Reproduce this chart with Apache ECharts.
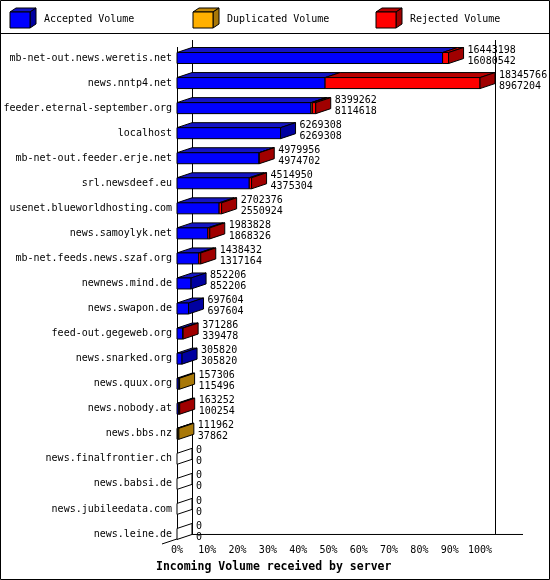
<!DOCTYPE html>
<html>
<head>
<meta charset="utf-8">
<script src="https://cdn.jsdelivr.net/npm/echarts@6/dist/echarts.min.js"></script>
<style>
  html, body { margin: 0; padding: 0; background: #fff; }
  #chart { width: 550px; height: 580px; }
</style>
</head>
<body>
<div id="chart"></div>
<script>
// servers, top to bottom
var servers = [
  'mb-net-out.news.weretis.net', 'news.nntp4.net', 'feeder.eternal-september.org',
  'localhost', 'mb-net-out.feeder.erje.net', 'srl.newsdeef.eu',
  'usenet.blueworldhosting.com', 'news.samoylyk.net', 'mb-net.feeds.news.szaf.org',
  'newnews.mind.de', 'news.swapon.de', 'feed-out.gegeweb.org', 'news.snarked.org',
  'news.quux.org', 'news.nobody.at', 'news.bbs.nz', 'news.finalfrontier.ch',
  'news.babsi.de', 'news.jubileedata.com', 'news.leine.de'
];
// numbers printed next to each bar
var offered = [16443198, 18345766, 8399262, 6269308, 4979956, 4514950, 2702376, 1983828,
  1438432, 852206, 697604, 371286, 305820, 157306, 163252, 111962, 0, 0, 0, 0];
var accepted = [16080542, 8967204, 8114618, 6269308, 4974702, 4375304, 2550924, 1868326,
  1317164, 852206, 697604, 339478, 305820, 115496, 100254, 37862, 0, 0, 0, 0];
var duplicated = [0, 0, 80000, 0, 0, 0, 0, 0, 0, 0, 0, 0, 0, 41810, 0, 74100, 0, 0, 0, 0];
var rejected = [362656, 9378562, 204644, 0, 5254, 139646, 151452, 115502, 121268, 0, 0,
  31808, 0, 0, 62998, 0, 0, 0, 0, 0];
var xTickLabels = ['0%', '10%', '20%', '30%', '40%', '50%', '60%', '70%', '80%', '90%', '100%'];

var FONT = 'DejaVu Sans Mono';
var DX = 15, DY = -5;   // 3d depth
var colors = {
  acc: { front: '#0000ff', top: '#1414c4', side: '#0000a0' },
  dup: { front: '#ffb000', top: '#c48a08', side: '#a87808' },
  rej: { front: '#ff0000', top: '#b80000', side: '#a00000' }
};
var edge = { stroke: '#000', lineWidth: 1 };

var xMax = Math.max.apply(null, offered);
var xInterval = xMax / 10;

var chart = echarts.init(document.getElementById('chart'), null, { renderer: 'canvas' });

function renderBar(params, api) {
  var i = api.value(0);
  var segs = [
    [api.value(1), colors.acc], [api.value(2), colors.dup], [api.value(3), colors.rej]
  ];
  var c = api.coord([0, i]);
  var x0 = c[0], cy = c[1];
  var top = cy - 5.5, bot = cy + 5.5;
  var children = [];
  var sum = 0, xs = x0, last = null;
  segs.forEach(function (s) {
    if (s[0] <= 0) return;
    var xe = api.coord([sum + s[0], i])[0];
    children.push({ type: 'polygon',
      shape: { points: [[xs, top], [xs + DX, top + DY], [xe + DX, top + DY], [xe, top]] },
      style: Object.assign({ fill: s[1].top }, edge) });
    children.push({ type: 'rect',
      shape: { x: xs, y: top, width: xe - xs, height: bot - top },
      style: Object.assign({ fill: s[1].front }, edge) });
    sum += s[0]; xs = xe; last = s[1];
  });
  children.push({ type: 'polygon',
    shape: { points: [[xs, top], [xs + DX, top + DY], [xs + DX, bot + DY], [xs, bot]] },
    style: Object.assign({ fill: last ? last.side : '#fff' }, edge) });
  children.push({ type: 'text', style: { text: String(api.value(4)), x: xs + DX + 4, y: cy - 8,
    verticalAlign: 'middle', fontFamily: FONT, fontSize: 10, fill: '#000' } });
  children.push({ type: 'text', style: { text: String(api.value(5)), x: xs + DX + 4, y: cy + 3,
    verticalAlign: 'middle', fontFamily: FONT, fontSize: 10, fill: '#000' } });
  return { type: 'group', children: children };
}

function renderFrame(params, api) {
  var first = api.coord([0, 0]);
  var lastC = api.coord([0, servers.length - 1]);
  var x0 = first[0], x100 = api.coord([xMax, 0])[0];
  var backTop = first[1] - 18, frontTop = first[1] - 11;
  var F = lastC[1] + 5;
  var ln = function (a, b, cc, d) {
    return { type: 'line', shape: { x1: a, y1: b, x2: cc, y2: d }, style: edge };
  };
  return { type: 'group', children: [
    ln(x0 + 0.5, frontTop, x0 + 0.5, F),
    ln(x0 + DX + 0.5, backTop, x0 + DX + 0.5, F + DY),
    ln(x100 + DX + 0.5, backTop, x100 + DX + 0.5, F + DY),
    ln(x0 + DX, F + DY + 0.5, x100 + DX + 28, F + DY + 0.5),
    ln(x0 - DX, F - DY, x0 + DX, F + DY)
  ] };
}

function cube(x, col, label) {
  var y = 12, w = 20, h = 16, d = 6, e = 4;
  return { type: 'group', children: [
    { type: 'polygon', shape: { points: [[x, y], [x + d, y - e], [x + w + d, y - e], [x + w, y]] },
      style: Object.assign({ fill: col.top }, edge) },
    { type: 'polygon', shape: { points: [[x + w, y], [x + w + d, y - e], [x + w + d, y + h - e], [x + w, y + h]] },
      style: Object.assign({ fill: col.side }, edge) },
    { type: 'rect', shape: { x: x, y: y, width: w, height: h },
      style: Object.assign({ fill: col.front }, edge) },
    { type: 'text', style: { text: label, x: x + 34, y: 19, verticalAlign: 'middle',
      fontFamily: FONT, fontSize: 10, fill: '#000' } }
  ] };
}

var barData = servers.map(function (s, i) {
  return [i, accepted[i], duplicated[i], rejected[i], offered[i], accepted[i]];
});

var option = {
  animation: false,
  backgroundColor: '#fff',
  title: {
    text: 'Incoming Volume received by server',
    left: 156, top: 561, padding: 0,
    textStyle: { fontFamily: FONT, fontSize: 11.5, fontWeight: 'bold', color: '#000' }
  },
  grid: { left: 177, right: 70, top: 45.5, bottom: 33.5 },
  xAxis: {
    type: 'value', min: 0, max: xMax, interval: xInterval,
    axisLine: { show: false }, axisTick: { show: false }, splitLine: { show: false },
    axisLabel: {
      margin: 4, verticalAlign: 'middle', color: '#000', fontFamily: FONT, fontSize: 10,
      formatter: function (v) { return xTickLabels[Math.round(v / xInterval)]; }
    }
  },
  yAxis: {
    type: 'category', data: servers, inverse: true,
    axisLine: { show: false }, axisTick: { show: false }, splitLine: { show: false },
    axisLabel: { margin: 5, color: '#000', fontFamily: FONT, fontSize: 10 }
  },
  graphic: [
    { type: 'rect', shape: { x: 0.5, y: 0.5, width: 549, height: 579 },
      style: { fill: null, stroke: '#000', lineWidth: 1 } },
    { type: 'line', shape: { x1: 0, y1: 33.5, x2: 550, y2: 33.5 }, style: edge },
    cube(10, colors.acc, 'Accepted Volume'),
    cube(193, colors.dup, 'Duplicated Volume'),
    cube(376, colors.rej, 'Rejected Volume')
  ],
  series: [
    { type: 'custom', name: 'frame', renderItem: renderFrame, data: [[0]], clip: false, z: 1, silent: true },
    { type: 'custom', name: 'volume', renderItem: renderBar, data: barData, clip: false, z: 2,
      encode: { x: [1, 2, 3], y: 0 } }
  ]
};

chart.setOption(option);
</script>
</body>
</html>
